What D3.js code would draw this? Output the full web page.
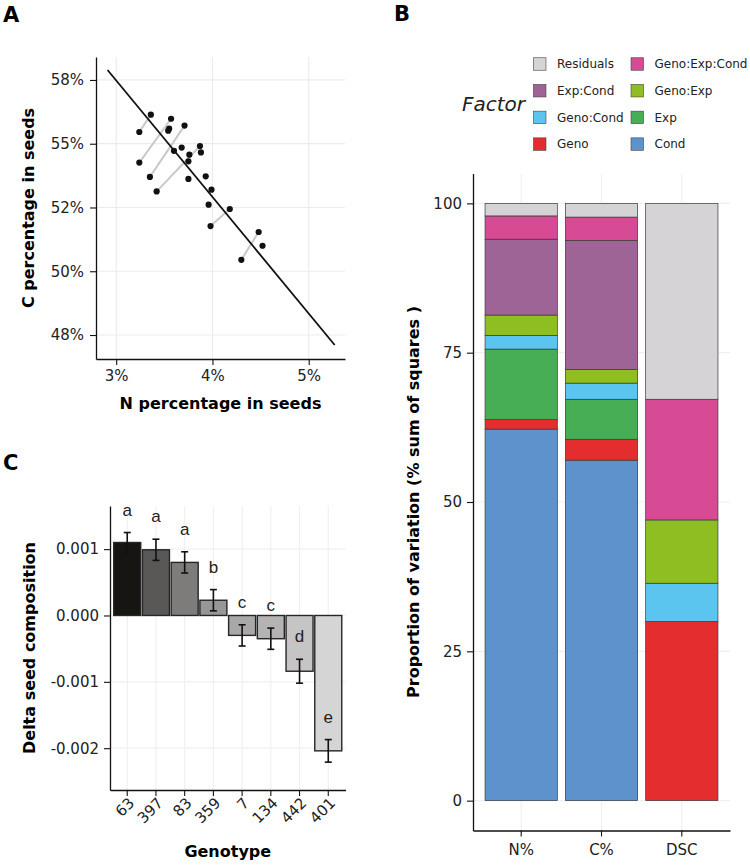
<!DOCTYPE html>
<meta charset="utf-8">
<head>
    <meta charset="UTF-8">
    <title>Seed composition: N vs C, variance partition and delta by genotype</title>
    <style>
        body { margin: 0; background: #fff; }
        text { font-family: "DejaVu Sans", sans-serif; }
    </style>
</head>
<body>
<script src="https://d3js.org/d3.v7.min.js"></script>
<div id="fig"></div>
<script>

    // ---------- data ----------
    // A: N and C percentage in seeds
    const nPct = [3.36, 3.24, 3.57, 3.55, 3.54, 3.71, 3.68, 3.60, 3.87, 3.88, 3.76, 3.75,
                  3.24, 3.35, 3.75, 3.93, 3.42, 3.99, 3.96, 4.18, 3.98, 4.48, 4.52, 4.30];
    const cPct = [56.14, 55.46, 55.98, 55.59, 55.51, 55.71, 54.85, 54.72, 54.91, 54.66, 54.57, 54.31,
                  54.26, 53.70, 53.62, 53.72, 53.13, 53.20, 52.61, 52.44, 51.77, 51.54, 51.00, 50.45];
    // grey links between paired samples (indices into the arrays above)
    const pairs = [[1, 0], [12, 2], [13, 5], [16, 8], [20, 19], [23, 21]];
    const fitN = [2.91, 5.27];
    const fitC = [57.89, 47.11];
    const aXTicks = [3, 4, 5];
    const aXLabels = ["3%", "4%", "5%"];
    const aYTicks = [47.5, 50, 52.5, 55, 57.5];
    const aYLabels = ["48%", "50%", "52%", "55%", "58%"];

    // B: proportion of variation, stacked bottom -> top
    const variables = ["N%", "C%", "DSC"];
    const factors = ["Cond", "Geno", "Exp", "Geno:Cond", "Geno:Exp", "Exp:Cond", "Geno:Exp:Cond", "Residuals"];
    const factorColors = ["#5e92cc", "#e32d2e", "#47ae55", "#5bc5f0", "#8fbe22", "#9e6496", "#d74a94", "#d5d3d5"];
    const nShares   = [62.2, 1.6, 11.8, 2.3, 3.4, 12.7, 3.9, 2.1];
    const cShares   = [57.0, 3.5, 6.7, 2.7, 2.3, 21.6, 3.9, 2.3];
    const dscShares = [0, 30.0, 0, 6.4, 10.6, 0, 20.2, 32.8];
    const bYTicks = [0, 25, 50, 75, 100];

    // C: delta seed composition by genotype
    const genotypes = ["63", "397", "83", "359", "7", "134", "442", "401"];
    const deltaMean = [0.00110, 0.00099, 0.00080, 0.00023, -0.00030, -0.00035, -0.00084, -0.00204];
    const deltaSE   = [0.00015, 0.00016, 0.00016, 0.00016, 0.00016, 0.00016, 0.00018, 0.00017];
    const groupLetters = ["a", "a", "a", "b", "c", "c", "d", "e"];
    const barGreys = ["#161512", "#5a5857", "#7e7c7b", "#989696", "#a9a7a7", "#b4b2b2", "#c6c4c4", "#d6d5d5"];
    const cYTicks = [-0.002, -0.001, 0, 0.001];
    const cYLabels = ["-0.002", "-0.001", "0.000", "0.001"];

    // ---------- svg ----------
    const W = 750, H = 865;
    const svg = d3.select("#fig").append("svg")
        .attr("width", W)
        .attr("height", H);

    const tickFont = "15px";
    const titleFont = "16px";

    function styleAxis(g) {
        g.attr("font-family", "DejaVu Sans").style("font-size", tickFont);
        g.select(".domain").attr("stroke", "#111").attr("stroke-width", 1.3);
        g.selectAll(".tick line").attr("stroke", "#111").attr("stroke-width", 1.1);
        g.selectAll(".tick text").attr("fill", "#222");
    }

    function panelLabel(txt, x, y) {
        svg.append("text")
            .attr("x", x).attr("y", y)
            .style("font-size", "21px")
            .style("font-weight", "bold")
            .text(txt);
    }

    // ================= Panel A =================
    const mA = {left: 96, top: 57, width: 249, height: 302};
    const gA = svg.append("g").attr("transform", `translate(${mA.left},${mA.top})`);

    const xA = d3.scaleLinear().domain([2.79, 5.377]).range([0, mA.width]);
    const yA = d3.scaleLinear().domain([46.56, 58.4]).range([mA.height, 0]);

    // grid
    gA.selectAll(".gx").data(aXTicks).join("line")
        .attr("x1", d => xA(d)).attr("x2", d => xA(d))
        .attr("y1", 0).attr("y2", mA.height)
        .attr("stroke", "#ececec").attr("stroke-width", 1.2);
    gA.selectAll(".gy").data(aYTicks).join("line")
        .attr("y1", d => yA(d)).attr("y2", d => yA(d))
        .attr("x1", 0).attr("x2", mA.width)
        .attr("stroke", "#ececec").attr("stroke-width", 1.2);

    // paired links
    gA.selectAll(".pair").data(pairs).join("line")
        .attr("x1", d => xA(nPct[d[0]])).attr("y1", d => yA(cPct[d[0]]))
        .attr("x2", d => xA(nPct[d[1]])).attr("y2", d => yA(cPct[d[1]]))
        .attr("stroke", "#c9c9c9").attr("stroke-width", 2);

    // fitted line
    gA.append("line")
        .attr("x1", xA(fitN[0])).attr("y1", yA(fitC[0]))
        .attr("x2", xA(fitN[1])).attr("y2", yA(fitC[1]))
        .attr("stroke", "#111").attr("stroke-width", 1.8);

    gA.selectAll(".pt").data(nPct).join("circle")
        .attr("cx", d => xA(d))
        .attr("cy", (d, i) => yA(cPct[i]))
        .attr("r", 3.1)
        .attr("fill", "#111");

    gA.append("g")
        .attr("transform", `translate(0,${mA.height})`)
        .call(d3.axisBottom(xA).tickValues(aXTicks).tickFormat((d, i) => aXLabels[i]).tickSize(6).tickSizeOuter(0).tickPadding(5))
        .call(styleAxis);
    gA.append("g")
        .call(d3.axisLeft(yA).tickValues(aYTicks).tickFormat((d, i) => aYLabels[i]).tickSize(6).tickSizeOuter(0).tickPadding(6))
        .call(styleAxis);

    gA.append("text")
        .attr("x", mA.width / 2).attr("y", 409 - mA.top)
        .attr("text-anchor", "middle")
        .style("font-size", titleFont).style("font-weight", "bold")
        .text("N percentage in seeds");
    gA.append("text")
        .attr("transform", `translate(${33.5 - mA.left},${mA.height / 2}) rotate(-90)`)
        .attr("text-anchor", "middle")
        .style("font-size", titleFont).style("font-weight", "bold")
        .text("C percentage in seeds");

    panelLabel("A", 3, 22);

    // ================= Panel B =================
    const mB = {left: 473, top: 173.5, width: 257, height: 657};
    const gB = svg.append("g").attr("transform", `translate(${mB.left},${mB.top})`);

    const xB = d3.scaleBand().domain(variables).range([0, mB.width])
        .paddingInner(0.1).paddingOuter(0.15);
    const yB = d3.scaleLinear().domain([-5, 105]).range([mB.height, 0]);

    gB.selectAll(".gx").data(variables).join("line")
        .attr("x1", d => xB(d) + xB.bandwidth() / 2).attr("x2", d => xB(d) + xB.bandwidth() / 2)
        .attr("y1", 0).attr("y2", mB.height)
        .attr("stroke", "#f0f0f0").attr("stroke-width", 1.2);
    gB.selectAll(".gy").data(bYTicks).join("line")
        .attr("y1", d => yB(d)).attr("y2", d => yB(d))
        .attr("x1", 0).attr("x2", mB.width)
        .attr("stroke", "#f0f0f0").attr("stroke-width", 1.2);

    const shareRows = [nShares, cShares, dscShares].map((arr, j) => {
        const row = {variable: variables[j]};
        factors.forEach((f, i) => row[f] = arr[i]);
        return row;
    });
    const stacked = d3.stack().keys(factors)(shareRows);

    gB.selectAll(".layer").data(stacked).join("g")
        .attr("fill", (d, i) => factorColors[i])
        .selectAll("rect").data(d => d).join("rect")
        .attr("x", d => xB(d.data.variable))
        .attr("width", xB.bandwidth())
        .attr("y", d => yB(d[1]))
        .attr("height", d => yB(d[0]) - yB(d[1]))
        .attr("stroke", d => (d[1] - d[0]) > 0 ? "#3a3a3a" : "none")
        .attr("stroke-width", 0.7);

    gB.append("g")
        .attr("transform", `translate(0,${mB.height})`)
        .call(d3.axisBottom(xB).tickSize(6).tickSizeOuter(0).tickPadding(8))
        .call(styleAxis);
    gB.append("g")
        .call(d3.axisLeft(yB).tickValues(bYTicks).tickSize(6).tickSizeOuter(0).tickPadding(5))
        .call(styleAxis);

    gB.append("text")
        .attr("transform", `translate(${419 - mB.left},${mB.height / 2}) rotate(-90)`)
        .attr("text-anchor", "middle")
        .style("font-size", titleFont).style("font-weight", "bold")
        .text("Proportion of variation (% sum of squares )");

    // legend
    const legend = svg.append("g");
    legend.append("text")
        .attr("x", 462).attr("y", 111)
        .style("font-size", "20px").style("font-style", "italic")
        .attr("fill", "#222")
        .text("Factor");
    const legendItems = factors.map((f, i) => ({name: f, color: factorColors[i]})).reverse();
    const legCols = [533.5, 631];
    const legRow0 = 64, legRowStep = 26.7, keySize = 12.5;
    const li = legend.selectAll(".item").data(legendItems).join("g")
        .attr("transform", (d, i) => `translate(${legCols[i % 2]},${legRow0 + Math.floor(i / 2) * legRowStep})`);
    li.append("rect")
        .attr("x", 0).attr("y", -keySize / 2)
        .attr("width", keySize).attr("height", keySize)
        .attr("fill", d => d.color)
        .attr("stroke", "#444").attr("stroke-width", 0.6);
    li.append("text")
        .attr("x", 23.5).attr("y", 4.3)
        .style("font-size", "12px")
        .attr("fill", "#222")
        .text(d => d.name);

    panelLabel("B", 394, 21);

    // ================= Panel C =================
    const mC = {left: 110, top: 506, width: 235.5, height: 284};
    const gC = svg.append("g").attr("transform", `translate(${mC.left},${mC.top})`);

    const xC = d3.scaleBand().domain(genotypes).range([0, mC.width])
        .paddingInner(0.06).paddingOuter(0.13);
    const yC = d3.scaleLinear().domain([-0.00263, 0.00165]).range([mC.height, 0]);

    gC.selectAll(".gx").data(genotypes).join("line")
        .attr("x1", d => xC(d) + xC.bandwidth() / 2).attr("x2", d => xC(d) + xC.bandwidth() / 2)
        .attr("y1", 0).attr("y2", mC.height)
        .attr("stroke", "#f0f0f0").attr("stroke-width", 1.2);
    gC.selectAll(".gy").data(cYTicks).join("line")
        .attr("y1", d => yC(d)).attr("y2", d => yC(d))
        .attr("x1", 0).attr("x2", mC.width)
        .attr("stroke", "#f0f0f0").attr("stroke-width", 1.2);

    const cData = genotypes.map((g, i) => ({g: g, m: deltaMean[i], se: deltaSE[i], lab: groupLetters[i], fill: barGreys[i]}));

    gC.selectAll(".bar").data(cData).join("rect")
        .attr("x", d => xC(d.g))
        .attr("width", xC.bandwidth())
        .attr("y", d => yC(Math.max(0, d.m)))
        .attr("height", d => Math.abs(yC(d.m) - yC(0)))
        .attr("fill", d => d.fill)
        .attr("stroke", "#262626")
        .attr("stroke-width", 1.4);

    const eb = gC.selectAll(".err").data(cData).join("g")
        .attr("transform", d => `translate(${xC(d.g) + xC.bandwidth() / 2},0)`);
    eb.append("line")
        .attr("y1", d => yC(d.m - d.se)).attr("y2", d => yC(d.m + d.se))
        .attr("stroke", "#111").attr("stroke-width", 1.6);
    eb.append("line")
        .attr("x1", -3.5).attr("x2", 3.5)
        .attr("y1", d => yC(d.m + d.se)).attr("y2", d => yC(d.m + d.se))
        .attr("stroke", "#111").attr("stroke-width", 1.6);
    eb.append("line")
        .attr("x1", -3.5).attr("x2", 3.5)
        .attr("y1", d => yC(d.m - d.se)).attr("y2", d => yC(d.m - d.se))
        .attr("stroke", "#111").attr("stroke-width", 1.6);
    eb.append("text")
        .attr("y", d => yC(d.m + d.se) - 17)
        .attr("text-anchor", "middle")
        .style("font-family", "'Liberation Sans', Arial, sans-serif")
        .style("font-size", "17px")
        .attr("fill", "#222")
        .text(d => d.lab);

    gC.append("g")
        .attr("transform", `translate(0,${mC.height})`)
        .call(d3.axisBottom(xC).tickSize(6).tickSizeOuter(0))
        .call(styleAxis)
        .selectAll(".tick text")
        .attr("y", 0).attr("dy", null)
        .attr("transform", "translate(8,14) rotate(-45)")
        .style("text-anchor", "end");
    gC.append("g")
        .call(d3.axisLeft(yC).tickValues(cYTicks).tickFormat((d, i) => cYLabels[i]).tickSize(6).tickSizeOuter(0).tickPadding(5))
        .call(styleAxis);

    gC.append("text")
        .attr("x", mC.width / 2).attr("y", 857 - mC.top)
        .attr("text-anchor", "middle")
        .style("font-size", titleFont).style("font-weight", "bold")
        .text("Genotype");
    gC.append("text")
        .attr("transform", `translate(${34.5 - mC.left},${mC.height / 2}) rotate(-90)`)
        .attr("text-anchor", "middle")
        .style("font-size", titleFont).style("font-weight", "bold")
        .text("Delta seed composition");

    panelLabel("C", 3, 470);

</script>
</body>
